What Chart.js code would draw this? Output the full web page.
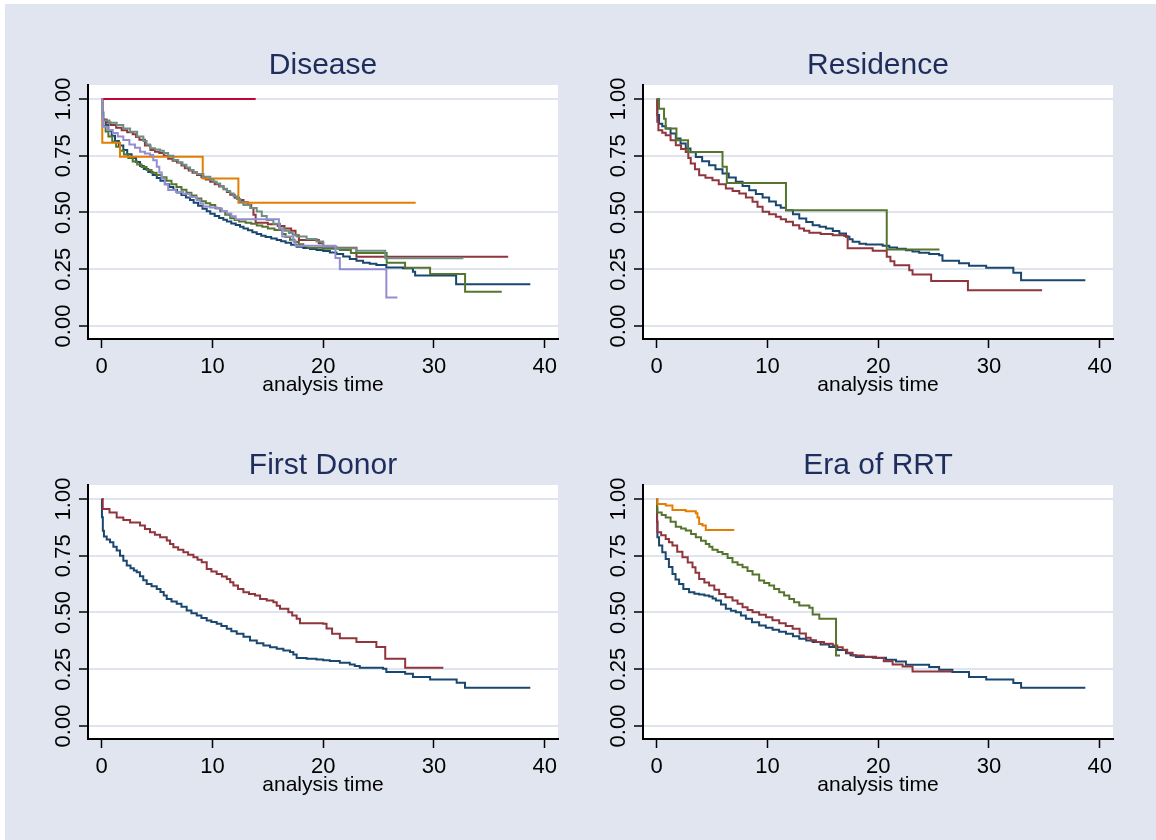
<!DOCTYPE html>
<html><head><meta charset="utf-8">
<script src="https://cdn.jsdelivr.net/npm/chart.js@4.4.1/dist/chart.umd.min.js"></script>
<style>
html,body{margin:0;padding:0;background:#fff;width:1156px;height:840px;overflow:hidden;}
#bg{position:absolute;left:5px;top:4px;width:1151px;height:836px;background:#e0e5ef;}
canvas{position:absolute;}
</style></head>
<body><div id="bg"></div>
<canvas id="c1" width="560" height="390" style="left:10px;top:20px"></canvas>
<canvas id="c2" width="560" height="390" style="left:565px;top:20px"></canvas>
<canvas id="c3" width="560" height="390" style="left:10px;top:420px"></canvas>
<canvas id="c4" width="560" height="390" style="left:565px;top:420px"></canvas>
<script>
// ---- tick values / labels ----
const xTicks = [0, 10, 20, 30, 40];
const yTicks = [0, 0.25, 0.5, 0.75, 1];
const yTickLabels = ['0.00', '0.25', '0.50', '0.75', '1.00'];
const panelTitles = ['Disease', 'Residence', 'First Donor', 'Era of RRT'];
const xAxisTitle = 'analysis time';

// ---- Disease: [analysis time, survival] ----
const disNavy = [[0,1],[0.05,0.94],[0.15,0.907],[0.35,0.885],[0.6,0.86],[0.9,0.838],[1.2,0.815],[1.55,0.795],[1.95,0.775],[2.3,0.757],[2.7,0.74],[3.1,0.722],[3.46,0.705],[3.8,0.692],[4.2,0.678],[4.6,0.665],[4.97,0.652],[5.3,0.64],[5.7,0.625],[6.1,0.612],[6.47,0.6],[6.8,0.588],[7.2,0.577],[7.6,0.566],[7.97,0.555],[8.3,0.543],[8.7,0.53],[9.1,0.517],[9.48,0.505],[9.8,0.494],[10.2,0.485],[10.6,0.476],[10.98,0.468],[11.3,0.46],[11.7,0.452],[12.1,0.445],[12.49,0.437],[12.8,0.43],[13.2,0.422],[13.6,0.413],[13.99,0.405],[14.4,0.398],[14.8,0.392],[15.3,0.386],[15.8,0.379],[16.2,0.373],[16.6,0.367],[17.1,0.358],[17.6,0.349],[18.2,0.344],[18.8,0.339],[19.4,0.335],[20.0,0.33],[20.6,0.324],[21.2,0.317],[21.8,0.306],[22.4,0.295],[23.0,0.287],[23.6,0.279],[24.2,0.274],[24.8,0.269],[25.7,0.258],[27.2,0.254],[28.1,0.239],[28.3,0.222],[32.0,0.184],[38.7,0.184]];
const disMaroon = [[0,1],[0.05,0.94],[0.1,0.91],[0.45,0.897],[0.8,0.885],[1.3,0.873],[1.8,0.862],[2.3,0.853],[2.8,0.845],[3.1,0.833],[3.4,0.82],[3.9,0.795],[4.4,0.775],[4.8,0.768],[5.2,0.762],[5.6,0.75],[6.0,0.737],[6.4,0.728],[6.8,0.72],[7.2,0.707],[7.5,0.695],[7.85,0.685],[8.2,0.675],[8.6,0.665],[9.0,0.655],[9.4,0.645],[9.8,0.635],[10.2,0.625],[10.6,0.615],[11.0,0.602],[11.3,0.59],[11.6,0.578],[12.0,0.565],[12.4,0.555],[12.8,0.545],[13.2,0.533],[13.5,0.52],[13.7,0.49],[13.9,0.455],[15.0,0.448],[15.9,0.44],[16.5,0.43],[17.1,0.42],[17.5,0.4],[17.8,0.379],[19.6,0.364],[20.0,0.345],[23.0,0.305],[36.7,0.305]];
const disGreen = [[0,1],[0.05,0.92],[0.1,0.88],[0.35,0.857],[0.6,0.835],[0.95,0.812],[1.3,0.79],[1.65,0.772],[2.0,0.755],[2.4,0.74],[2.8,0.725],[3.2,0.712],[3.6,0.7],[4.05,0.687],[4.5,0.675],[4.95,0.665],[5.4,0.655],[5.85,0.64],[6.3,0.625],[6.75,0.612],[7.2,0.6],[7.65,0.587],[8.1,0.575],[8.55,0.562],[9.0,0.55],[9.4,0.541],[9.8,0.533],[10.25,0.519],[10.7,0.505],[11.15,0.49],[11.6,0.475],[12.0,0.467],[12.4,0.46],[13.0,0.455],[13.5,0.45],[14.0,0.443],[14.5,0.437],[15.0,0.43],[15.6,0.423],[16.3,0.405],[16.6,0.392],[17.0,0.38],[17.4,0.37],[17.8,0.36],[18.2,0.352],[18.6,0.345],[20.0,0.34],[21.5,0.335],[22.5,0.322],[25.73,0.279],[27.39,0.257],[29.65,0.229],[32.81,0.151],[36.12,0.151]];
const disOrange = [[0,1],[0.05,0.807],[1.65,0.746],[9.12,0.65],[12.34,0.543],[28.35,0.543]];
const disTeal = [[0,1],[0.05,0.94],[0.1,0.905],[0.7,0.895],[1.35,0.885],[1.95,0.87],[2.56,0.856],[3.2,0.835],[3.76,0.815],[4.05,0.8],[4.36,0.783],[4.8,0.778],[5.27,0.772],[5.6,0.762],[6.0,0.75],[6.47,0.731],[6.9,0.72],[7.3,0.71],[7.65,0.698],[7.98,0.687],[8.3,0.678],[8.6,0.67],[9.18,0.658],[9.8,0.645],[10.1,0.636],[10.38,0.628],[10.7,0.617],[11.0,0.605],[11.3,0.595],[11.59,0.584],[11.9,0.572],[12.2,0.56],[12.5,0.546],[12.79,0.533],[13.4,0.52],[14.0,0.504],[14.45,0.485],[14.9,0.467],[15.5,0.45],[16.1,0.43],[16.5,0.42],[16.9,0.41],[17.25,0.402],[17.6,0.394],[18.5,0.383],[19.4,0.372],[20.0,0.349],[21.2,0.342],[23.0,0.332],[25.6,0.298],[32.66,0.298]];
const disCranberry = [[0,1],[13.9,1]];
const disLavender = [[0,1],[0.05,0.92],[0.1,0.878],[0.55,0.864],[1.0,0.85],[1.45,0.835],[1.95,0.819],[2.5,0.8],[3.0,0.785],[3.46,0.768],[3.9,0.76],[4.36,0.753],[4.65,0.73],[4.97,0.702],[5.2,0.676],[5.42,0.65],[5.7,0.625],[6.0,0.599],[6.7,0.59],[7.37,0.581],[8.0,0.568],[8.58,0.555],[8.9,0.54],[9.18,0.526],[9.8,0.522],[10.4,0.518],[10.85,0.507],[11.3,0.496],[11.7,0.483],[12.1,0.47],[16.0,0.43],[16.3,0.394],[17.3,0.375],[17.5,0.354],[21.1,0.3],[21.5,0.25],[25.7,0.126],[26.7,0.126]];

// ---- Residence ----
const resNavy = [[0,1],[0.05,0.93],[0.21,0.891],[0.5,0.88],[0.81,0.87],[1.25,0.848],[1.72,0.826],[2.15,0.804],[2.62,0.782],[3.05,0.765],[3.53,0.745],[4.1,0.726],[4.73,0.708],[5.3,0.69],[5.94,0.672],[6.5,0.654],[7.14,0.635],[7.75,0.617],[8.35,0.598],[8.95,0.582],[9.56,0.566],[10.15,0.549],[10.76,0.532],[11.2,0.521],[11.67,0.51],[12.3,0.492],[12.87,0.474],[13.5,0.458],[14.08,0.444],[14.7,0.437],[15.28,0.43],[15.9,0.419],[16.49,0.408],[17.09,0.393],[17.4,0.382],[17.69,0.371],[18.3,0.362],[18.9,0.359],[20.4,0.353],[21.0,0.346],[21.7,0.34],[22.5,0.334],[23.1,0.328],[23.7,0.323],[24.6,0.317],[25.5,0.312],[25.8,0.287],[27.3,0.276],[28.2,0.265],[29.75,0.257],[32.2,0.235],[32.9,0.202],[38.7,0.202]];
const resMaroon = [[0,1],[0.05,0.9],[0.15,0.862],[0.5,0.851],[0.81,0.84],[1.25,0.818],[1.72,0.796],[2.2,0.78],[2.62,0.767],[2.85,0.74],[3.07,0.716],[3.45,0.69],[3.83,0.664],[4.4,0.653],[5.03,0.642],[5.6,0.624],[6.24,0.606],[6.85,0.595],[7.45,0.584],[8.05,0.566],[8.65,0.547],[9.1,0.525],[9.56,0.503],[10.15,0.492],[10.76,0.481],[11.2,0.47],[11.67,0.459],[12.3,0.444],[12.87,0.43],[13.3,0.42],[13.78,0.411],[14.8,0.405],[15.89,0.4],[16.94,0.396],[17.24,0.342],[19.5,0.331],[20.77,0.305],[21.1,0.285],[21.46,0.268],[22.8,0.246],[23.1,0.227],[24.78,0.198],[28.1,0.158],[34.8,0.158]];
const resGreen = [[0,1],[0.21,0.957],[0.66,0.913],[0.81,0.87],[1.78,0.818],[2.83,0.767],[5.94,0.701],[6.33,0.63],[11.67,0.51],[20.77,0.337],[25.53,0.337]];

// ---- First Donor ----
const fdNavy = [[0,1],[0.02,0.92],[0.1,0.86],[0.2,0.835],[0.45,0.822],[0.75,0.809],[1.05,0.79],[1.35,0.773],[1.65,0.75],[1.95,0.728],[2.26,0.707],[2.6,0.695],[2.9,0.685],[3.16,0.677],[3.45,0.66],[3.75,0.642],[4.06,0.626],[4.5,0.616],[4.97,0.604],[5.3,0.59],[5.6,0.575],[5.87,0.56],[6.3,0.548],[6.77,0.538],[7.2,0.525],[7.67,0.509],[8.1,0.497],[8.58,0.487],[9.0,0.476],[9.48,0.465],[9.9,0.458],[10.38,0.45],[10.8,0.44],[11.29,0.428],[11.7,0.417],[12.19,0.406],[12.8,0.393],[13.39,0.377],[14.0,0.365],[14.6,0.355],[15.2,0.347],[15.8,0.34],[16.4,0.333],[17.0,0.326],[17.3,0.315],[17.6,0.299],[18.5,0.296],[19.4,0.293],[20.0,0.29],[20.6,0.286],[21.5,0.279],[22.4,0.271],[22.85,0.264],[23.3,0.257],[25.4,0.252],[25.7,0.238],[27.4,0.23],[28.1,0.216],[29.65,0.205],[32.05,0.191],[32.8,0.169],[38.7,0.169]];
const fdMaroon = [[0,1],[0.09,0.956],[0.7,0.94],[1.35,0.919],[1.95,0.908],[2.56,0.897],[3.46,0.883],[3.9,0.868],[4.36,0.853],[4.8,0.842],[5.27,0.831],[5.87,0.817],[6.17,0.802],[6.47,0.787],[6.9,0.776],[7.37,0.765],[7.8,0.754],[8.28,0.743],[8.65,0.732],[9.03,0.721],[9.48,0.692],[9.9,0.681],[10.38,0.67],[10.85,0.659],[11.29,0.648],[11.6,0.633],[11.89,0.619],[12.3,0.604],[12.79,0.589],[13.3,0.582],[13.84,0.575],[14.3,0.56],[14.9,0.553],[15.5,0.545],[15.8,0.53],[16.1,0.516],[16.85,0.501],[17.2,0.487],[17.6,0.472],[17.9,0.453],[20.0,0.45],[20.3,0.43],[20.8,0.406],[21.5,0.387],[23.0,0.37],[24.8,0.348],[25.6,0.296],[27.4,0.257],[30.85,0.257]];

// ---- Era of RRT ----
const eraNavy = [[0,1],[0.03,0.9],[0.06,0.831],[0.21,0.795],[0.5,0.765],[0.81,0.736],[1.1,0.7],[1.42,0.67],[1.7,0.645],[2.02,0.626],[2.4,0.603],[2.92,0.589],[3.4,0.583],[3.83,0.579],[4.3,0.575],[4.73,0.57],[5.05,0.562],[5.34,0.553],[5.8,0.535],[6.24,0.516],[6.7,0.508],[7.14,0.501],[7.6,0.487],[8.05,0.472],[8.6,0.457],[9.25,0.443],[9.85,0.433],[10.46,0.424],[11.05,0.415],[11.67,0.406],[12.3,0.395],[12.87,0.384],[13.5,0.377],[14.08,0.37],[14.8,0.359],[15.58,0.348],[16.3,0.335],[17.09,0.321],[17.5,0.312],[17.99,0.304],[19.5,0.301],[20.7,0.292],[21.6,0.284],[22.5,0.27],[24.6,0.26],[25.5,0.248],[26.7,0.238],[28.2,0.216],[29.75,0.205],[32.2,0.189],[32.9,0.169],[38.7,0.169]];
const eraMaroon = [[0,1],[0.03,0.9],[0.06,0.853],[0.4,0.84],[0.81,0.824],[1.1,0.81],[1.42,0.795],[1.85,0.768],[2.32,0.743],[2.8,0.72],[3.23,0.699],[3.5,0.675],[3.83,0.648],[4.3,0.632],[4.73,0.619],[5.2,0.6],[5.64,0.582],[6.2,0.567],[6.84,0.553],[7.3,0.538],[7.75,0.523],[8.2,0.511],[8.65,0.501],[9.25,0.49],[9.86,0.479],[10.45,0.466],[11.06,0.453],[11.65,0.441],[12.27,0.428],[12.9,0.408],[13.47,0.389],[13.9,0.378],[14.38,0.37],[15.1,0.362],[15.89,0.355],[16.3,0.347],[16.79,0.336],[17.2,0.323],[17.69,0.311],[18.7,0.305],[19.8,0.299],[20.5,0.285],[21.3,0.271],[22.2,0.262],[23.1,0.24],[26.7,0.24]];
const eraGreen = [[0,1],[0.03,0.96],[0.06,0.941],[0.45,0.93],[0.81,0.919],[1.25,0.9],[1.72,0.878],[2.2,0.87],[2.62,0.861],[3.1,0.846],[3.53,0.831],[4.0,0.816],[4.43,0.802],[4.75,0.79],[5.03,0.776],[5.5,0.767],[5.94,0.758],[6.4,0.74],[6.84,0.721],[7.3,0.71],[7.75,0.699],[8.2,0.683],[8.65,0.667],[9.25,0.641],[9.7,0.63],[10.16,0.619],[10.6,0.604],[11.06,0.589],[11.5,0.575],[11.97,0.56],[12.4,0.545],[12.87,0.531],[13.78,0.521],[14.08,0.491],[14.68,0.472],[16.19,0.311],[16.55,0.311]];
const eraOrange = [[0,1],[0.06,0.978],[0.81,0.971],[1.42,0.952],[2.62,0.946],[3.53,0.937],[3.68,0.919],[3.83,0.89],[4.13,0.883],[4.43,0.864],[7.0,0.864]];

// ---- style ----
const C = {navy:'#1a476f', maroon:'#90353b', green:'#55752f', orange:'#e37e00', teal:'#6e8e84', cranberry:'#c10534', lavender:'#938dd2'};
const FONT = '"Liberation Sans", Arial, Helvetica, sans-serif';
const XMIN = -1.24, XMAX = 41.2, YMIN = -0.0573, YMAX = 1.0617;

const plotBg = {id:'plotBg', beforeDraw(chart){const {ctx, chartArea:a} = chart; ctx.save(); ctx.fillStyle = '#ffffff'; ctx.fillRect(a.left, a.top, a.right - a.left, a.bottom - a.top); ctx.restore();}};

function makeChart(id, title, series){
  const n = series.length;
  new Chart(document.getElementById(id), {
    type: 'line',
    data: {datasets: series.map((s, i) => ({
      data: s[0].map(p => ({x: p[0], y: p[1]})),
      borderColor: s[1], borderWidth: 2, pointRadius: 0, pointHoverRadius: 0,
      stepped: 'before', fill: false, tension: 0, order: n - i
    }))},
    options: {
      responsive: false, animation: false, events: [],
      layout: {padding: {left: 8, right: 12, top: 0, bottom: 12}},
      plugins: {
        legend: {display: false}, tooltip: {enabled: false},
        title: {display: true, text: title, fullSize: false, color: '#1e2d5c',
          font: {family: FONT, size: 30, weight: 'normal', lineHeight: 1.2}, padding: {top: 28, bottom: 1}}
      },
      scales: {
        x: {type: 'linear', min: XMIN, max: XMAX,
          afterBuildTicks: s => { s.ticks = xTicks.map(v => ({value: v})); },
          ticks: {font: {family: FONT, size: 22}, color: '#000', padding: 6, maxRotation: 0, minRotation: 0, callback: v => String(v)},
          grid: {drawOnChartArea: false, drawTicks: true, tickLength: 9, tickColor: '#000', tickWidth: 1.5},
          border: {display: true, color: '#000', width: 2},
          title: {display: true, text: xAxisTitle, color: '#000', font: {family: FONT, size: 21, lineHeight: 1.2}, padding: {top: 0, bottom: 0}},
          afterFit: s => { s.height = 59; }
        },
        y: {type: 'linear', min: YMIN, max: YMAX,
          afterBuildTicks: s => { s.ticks = yTicks.map(v => ({value: v})); },
          ticks: {font: {family: FONT, size: 22}, color: '#000', padding: -6.4, minRotation: 90, maxRotation: 90, crossAlign: 'center',
            callback: (v, i) => yTickLabels[i]},
          grid: {color: '#dfe4ee', lineWidth: 2, drawTicks: true, tickLength: 9, tickColor: '#000', tickWidth: 1.5},
          border: {display: true, color: '#000', width: 2},
          afterFit: s => { s.width = 70; }
        }
      }
    },
    plugins: [plotBg]
  });
}

makeChart('c1', panelTitles[0], [[disNavy,C.navy],[disMaroon,C.maroon],[disGreen,C.green],[disOrange,C.orange],[disTeal,C.teal],[disCranberry,C.cranberry],[disLavender,C.lavender]]);
makeChart('c2', panelTitles[1], [[resNavy,C.navy],[resMaroon,C.maroon],[resGreen,C.green]]);
makeChart('c3', panelTitles[2], [[fdNavy,C.navy],[fdMaroon,C.maroon]]);
makeChart('c4', panelTitles[3], [[eraNavy,C.navy],[eraMaroon,C.maroon],[eraGreen,C.green],[eraOrange,C.orange]]);
</script>
</body></html>
